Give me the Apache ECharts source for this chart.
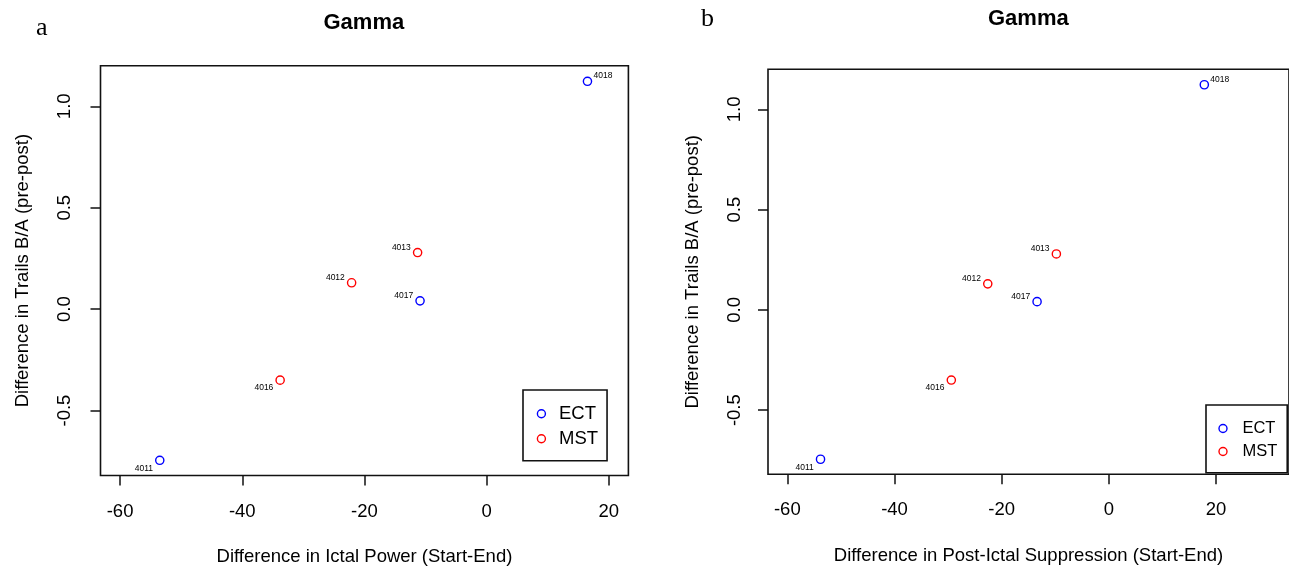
<!DOCTYPE html>
<html>
<head>
<meta charset="utf-8">
<script src="https://cdn.jsdelivr.net/npm/echarts@6/dist/echarts.min.js"></script>
<style>
html,body{margin:0;padding:0;background:#fff;overflow:hidden;}
#chart{width:1289px;height:571px;}
</style>
</head>
<body>
<div id="chart"></div>
<script>
// ---- data ----
const ectIds = ['4011', '4017', '4018'];
const mstIds = ['4012', '4013', '4016'];
const trailsECT = [-0.745, 0.041, 1.123];
const trailsMST = [0.130, 0.279, -0.350];
const ictalECT = [-53.5, -10.9, 16.5];
const ictalMST = [-22.1, -11.3, -33.8];
const suppECT = [-53.8, -13.4, 17.8];
const suppMST = [-22.6, -9.8, -29.4];
const xTicks = [-60, -40, -20, 0, 20];
const yTicks = [-0.5, 0.0, 0.5, 1.0];
const panelTitles = ['Gamma', 'Gamma'];
const panelLetters = ['a', 'b'];
const xNames = ['Difference in Ictal Power (Start-End)', 'Difference in Post-Ictal Suppression (Start-End)'];
const yName = 'Difference in Trails B/A (pre-post)';
const seriesNames = ['ECT', 'MST'];

// ---- label placement (style, not data) ----
const labelSide = {'4018': 'tr', '4013': 'tl', '4012': 'tl', '4017': 'tl', '4016': 'bl', '4011': 'bl'};
const sideStyle = {
  tr: {align: 'left', offset: [6, -5.3]},
  tl: {align: 'right', offset: [-6.8, -5.3]},
  bl: {align: 'right', offset: [-6.8, 8]}
};
const FONT = "'Liberation Sans', Arial, Helvetica, sans-serif";
const SERIF = "'Liberation Serif', 'Times New Roman', serif";
const colors = {ECT: '#0000FF', MST: '#FF0000'};

function pts(xs, ys, ids) {
  return xs.map((x, i) => {
    const s = sideStyle[labelSide[ids[i]]];
    return {value: [x, ys[i]], name: ids[i],
      label: {align: s.align, offset: s.offset}};
  });
}
function scatter(name, xi, data) {
  return {
    type: 'scatter', name: name, xAxisIndex: xi, yAxisIndex: xi,
    symbol: 'circle', symbolSize: 8.2,
    itemStyle: {color: 'rgba(0,0,0,0)', borderColor: colors[name], borderWidth: 1.4, opacity: 1},
    label: {show: true, position: 'inside', formatter: '{b}', fontSize: 8.5, color: '#000',
      fontFamily: FONT, verticalAlign: 'middle'},
    emphasis: {disabled: true},
    data: data
  };
}
function xAxis(gi, min, max, margin, gap) {
  return {
    type: 'value', gridIndex: gi, min: min, max: max,
    name: xNames[gi], nameLocation: 'middle', nameGap: gap,
    nameTextStyle: {fontSize: 18.5, color: '#000', fontFamily: FONT},
    axisLine: {show: false, onZero: false},
    axisTick: {show: true, length: 10, customValues: xTicks, lineStyle: {color: '#111', width: 1.5}},
    axisLabel: {customValues: xTicks, fontSize: 18.5, color: '#000', fontFamily: FONT, margin: margin,
      formatter: v => String(v)},
    splitLine: {show: false}
  };
}
function yAxis(gi, margin, gap) {
  return {
    type: 'value', gridIndex: gi, min: -0.82, max: 1.2,
    name: yName, nameLocation: 'middle', nameGap: gap,
    nameTextStyle: {fontSize: 18.5, color: '#000', fontFamily: FONT},
    axisLine: {show: false, onZero: false},
    axisTick: {show: true, length: 10, customValues: yTicks, lineStyle: {color: '#111', width: 1.5}},
    axisLabel: {customValues: yTicks, rotate: 90, fontSize: 18.5, color: '#000', fontFamily: FONT,
      margin: margin, formatter: v => v.toFixed(1)},
    splitLine: {show: false}
  };
}

const chart = echarts.init(document.getElementById('chart'), null, {renderer: 'canvas'});
chart.setOption({
  animation: false,
  backgroundColor: '#fff',
  grid: [
    {left: 100.5, top: 65.7, right: 660.6, bottom: 95, show: true, borderColor: '#111', borderWidth: 1.6, backgroundColor: 'rgba(0,0,0,0)'},
    {left: 768, top: 69.3, right: -1.5, bottom: 96.7, show: true, borderColor: '#111', borderWidth: 1.6, backgroundColor: 'rgba(0,0,0,0)'}
  ],
  xAxis: [xAxis(0, -63.2, 23.2, 27, 71.5), xAxis(1, -63.6, 33.6, 26, 72)],
  yAxis: [yAxis(0, 26, 68.5), yAxis(1, 23.5, 66)],
  legend: [
    {orient: 'vertical', left: 523, top: 390, data: seriesNames, icon: 'circle',
      itemWidth: 8, itemHeight: 8, itemGap: 6, selectedMode: false,
      padding: [14.3, 9, 12.5, 13.7], borderColor: '#111', borderWidth: 1.6,
      itemStyle: {color: 'rgba(0,0,0,0)', borderWidth: 1.4},
      textStyle: {fontSize: 18.5, lineHeight: 18, color: '#000', fontFamily: FONT, padding: [0, 0, 0, 8.6]}},
    {orient: 'vertical', left: 1206, top: 405, data: seriesNames, icon: 'circle',
      itemWidth: 8, itemHeight: 8, itemGap: 6, selectedMode: false,
      padding: [15, 10, 12.7, 12.3], borderColor: '#111', borderWidth: 1.6,
      itemStyle: {color: 'rgba(0,0,0,0)', borderWidth: 1.4},
      textStyle: {fontSize: 16.5, lineHeight: 17, color: '#000', fontFamily: FONT, padding: [0, 0, 0, 10.4]}}
  ],
  graphic: [
    {type: 'text', left: 364.5 - 41, top: 12, style: {text: panelTitles[0], font: "bold 22px " + FONT, fill: '#000'}},
    {type: 'text', left: 1029 - 41, top: 8, style: {text: panelTitles[1], font: "bold 22px " + FONT, fill: '#000'}},
    {type: 'text', left: 36, top: 15, style: {text: panelLetters[0], font: "26px " + SERIF, fill: '#000'}},
    {type: 'text', left: 701, top: 6, style: {text: panelLetters[1], font: "26px " + SERIF, fill: '#000'}}
  ],
  series: [
    scatter('ECT', 0, pts(ictalECT, trailsECT, ectIds)),
    scatter('MST', 0, pts(ictalMST, trailsMST, mstIds)),
    scatter('ECT', 1, pts(suppECT, trailsECT, ectIds)),
    scatter('MST', 1, pts(suppMST, trailsMST, mstIds))
  ]
});
</script>
</body>
</html>
